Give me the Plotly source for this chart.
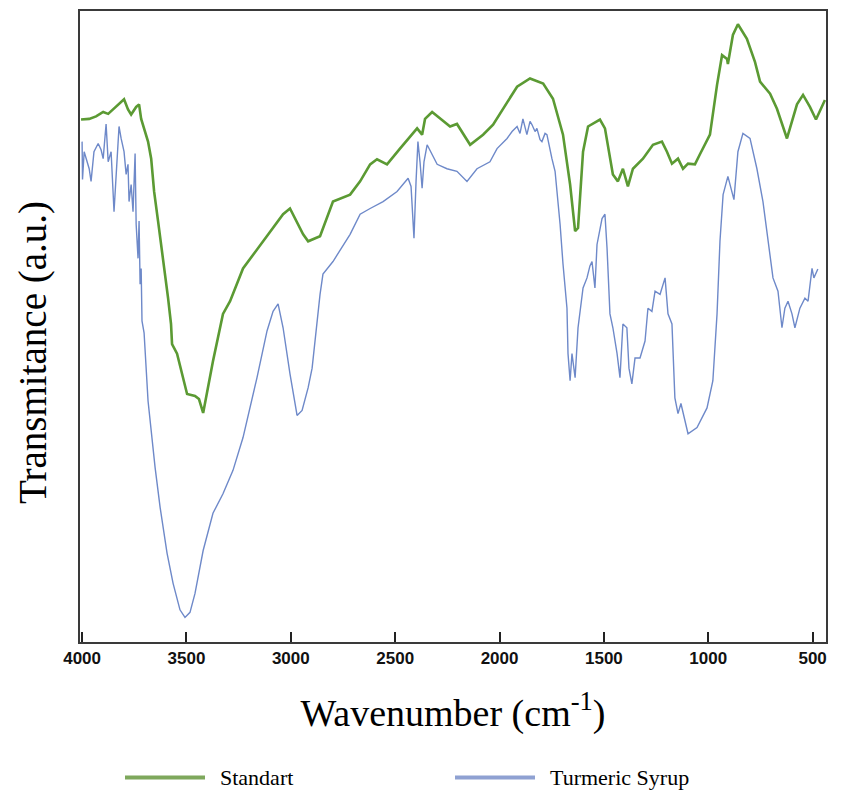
import plotly.graph_objects as go

# ---- Standart (green) : wavenumber (cm-1) and transmittance (a.u.) ----
std_wn = [4005, 3966, 3933, 3899, 3875, 3852, 3823, 3799, 3780, 3765, 3741, 3727, 3717, 3703,
          3684, 3669, 3655, 3636, 3612, 3588, 3574, 3569, 3545, 3497, 3459, 3440, 3420, 3373,
          3325, 3291, 3229, 3133, 3037, 3004, 2941, 2917, 2860, 2798, 2716, 2668, 2620, 2587,
          2539, 2477, 2395, 2371, 2357, 2323, 2237, 2204, 2141, 2079, 2031, 1916, 1854, 1791,
          1744, 1696, 1662, 1638, 1624, 1600, 1576, 1519, 1495, 1457, 1433, 1409, 1385, 1361,
          1313, 1265, 1222, 1198, 1174, 1145, 1121, 1097, 1064, 1040, 992, 958, 934, 910, 906,
          882, 858, 815, 776, 752, 704, 671, 623, 575, 546, 513, 484, 441]
std_t = [82.8, 82.9, 83.3, 84.0, 83.7, 84.4, 85.2, 86.0, 84.4, 83.6, 84.8, 85.2, 82.9, 81.4,
         79.3, 76.6, 71.4, 66.7, 60.8, 54.5, 50.4, 47.2, 45.7, 39.3, 39.0, 38.5, 36.3, 44.5,
         52.0, 54.0, 59.2, 63.5, 67.8, 68.7, 64.6, 63.5, 64.3, 69.8, 70.9, 73.0, 75.7, 76.5,
         75.7, 78.2, 81.4, 80.4, 82.9, 84.0, 81.7, 82.1, 78.8, 80.4, 82.0, 88.0, 89.3, 88.5,
         86.1, 80.4, 72.5, 65.1, 65.6, 77.7, 81.7, 82.8, 81.4, 74.1, 73.0, 75.0, 72.2, 75.0,
         76.6, 78.8, 79.3, 77.7, 75.8, 76.6, 75.0, 75.8, 75.7, 77.3, 80.4, 88.3, 93.0, 92.4, 91.6,
         96.2, 97.9, 95.6, 91.9, 88.8, 86.9, 84.5, 79.8, 85.2, 86.7, 84.8, 82.8, 85.9]

# ---- Turmeric Syrup (blue) ----
syr_wn = [4000, 3998, 3990, 3981, 3966, 3957, 3943, 3923, 3909, 3899, 3885, 3875, 3861, 3847,
          3837, 3823, 3813, 3799, 3789, 3780, 3775, 3765, 3756, 3746, 3741, 3732, 3727, 3722,
          3717, 3713, 3703, 3684, 3650, 3626, 3593, 3564, 3531, 3507, 3483, 3459, 3420, 3373,
          3325, 3277, 3229, 3162, 3114, 3085, 3061, 3037, 3004, 2970, 2946, 2917, 2898, 2874,
          2860, 2846, 2798, 2716, 2668, 2620, 2558, 2491, 2438, 2424, 2419, 2410, 2400, 2391,
          2381, 2371, 2362, 2347, 2299, 2252, 2204, 2156, 2108, 2046, 2012, 1964, 1940, 1916,
          1902, 1888, 1869, 1854, 1845, 1830, 1821, 1806, 1797, 1782, 1773, 1758, 1749, 1734,
          1725, 1710, 1696, 1677, 1672, 1662, 1653, 1638, 1624, 1600, 1581, 1567, 1557, 1543,
          1533, 1509, 1495, 1485, 1471, 1457, 1437, 1423, 1409, 1390, 1380, 1366, 1351, 1327,
          1303, 1289, 1270, 1255, 1231, 1207, 1193, 1174, 1160, 1145, 1131, 1112, 1097, 1054,
          1006, 978, 958, 944, 929, 906, 886, 877, 858, 834, 800, 767, 738, 714, 690, 666, 647,
          633, 618, 599, 585, 561, 537, 522, 503, 494, 475]
syr_t = [79.3, 73.3, 77.7, 76.6, 75.0, 73.0, 77.7, 79.0, 78.0, 76.6, 82.1, 76.1, 77.7, 68.2,
         74.6, 81.7, 79.8, 77.7, 74.1, 75.7, 69.8, 72.5, 68.2, 77.4, 66.2, 60.8, 66.7, 56.7,
         59.2, 50.9, 49.0, 38.2, 27.6, 21.3, 14.1, 9.3, 5.1, 3.9, 4.7, 7.7, 14.5, 20.4,
         23.5, 27.2, 32.4, 41.9, 49.3, 52.4, 53.6, 49.8, 42.5, 35.9, 36.7, 40.3, 43.4, 50.9,
         55.1, 58.3, 60.3, 64.6, 67.8, 68.7, 69.8, 71.4, 73.5, 72.2, 69.8, 64.0, 73.0, 79.3,
         76.1, 71.9, 76.1, 78.8, 75.7, 75.0, 74.6, 73.0, 75.0, 76.1, 78.2, 79.8, 80.9, 81.7,
         80.6, 82.9, 80.4, 82.5, 82.0, 80.9, 81.4, 79.6, 79.3, 80.6, 80.4, 77.7, 76.6, 74.6,
         71.4, 66.2, 59.9, 52.9, 45.7, 41.4, 45.7, 41.9, 49.8, 56.1, 57.7, 59.6, 60.3, 56.1,
         63.0, 67.1, 67.8, 62.4, 52.0, 49.8, 45.7, 41.9, 50.4, 49.8, 43.4, 40.9, 45.0, 45.0,
         47.7, 52.9, 52.4, 55.6, 55.1, 57.7, 52.0, 50.4, 38.7, 36.2, 37.8, 35.1, 33.0, 34.0,
         37.1, 41.4, 52.0, 63.5, 70.9, 73.8, 71.4, 70.1, 77.7, 80.6, 79.8, 75.0, 69.8, 63.5,
         57.7, 55.6, 49.8, 52.9, 54.0, 52.0, 49.8, 52.9, 54.5, 54.0, 59.2, 57.7, 59.1]

tick_vals = [4000, 3500, 3000, 2500, 2000, 1500, 1000, 500]
tick_text = ["4000", "3500", "3000", "2500", "2000", "1500", "1000", "500"]
series_names = ["Standart", "Turmeric Syrup"]

GREEN = "#5b9a33"
BLUE = "#6e89c9"
LEG_GREEN = "#7ea85c"
LEG_BLUE = "#8fa1d2"

fig = go.Figure()
fig.add_trace(go.Scatter(x=std_wn, y=std_t, mode="lines", name=series_names[0],
                         line=dict(color=GREEN, width=2.6), showlegend=False))
fig.add_trace(go.Scatter(x=syr_wn, y=syr_t, mode="lines", name=series_names[1],
                         line=dict(color=BLUE, width=1.4), showlegend=False))

serif = "Liberation Serif, Times New Roman, serif"

fig.update_layout(
    width=850, height=796,
    margin=dict(l=80, r=24, t=9, b=154),
    paper_bgcolor="white", plot_bgcolor="white",
    showlegend=False,
    xaxis=dict(range=[4010, 436], tickvals=tick_vals, ticktext=tick_text,
               ticks="inside", ticklen=10, tickwidth=1.5, tickcolor="#222",
               showline=True, mirror=True, linecolor="#3a3a3a", linewidth=2,
               showgrid=False, zeroline=False,
               tickfont=dict(family="Liberation Sans, Arial", size=17, color="#111", weight="bold"),
               title=dict(text="Wavenumber (cm<sup>-1</sup>)",
                          font=dict(family=serif, size=38, color="black"), standoff=32)),
    yaxis=dict(range=[0, 100], showticklabels=False, ticks="",
               showline=True, mirror=True, linecolor="#3a3a3a", linewidth=2,
               showgrid=False, zeroline=False),
)

# y axis title
fig.add_annotation(text="Transmitance (a.u.)", xref="paper", yref="paper",
                   x=(33 - 80) / 746, y=(642 - 352) / 633, textangle=-90,
                   xanchor="center", yanchor="middle", showarrow=False,
                   font=dict(family=serif, size=39, color="black"))

# legend drawn below the chart
legend_items = [(series_names[0], LEG_GREEN, 125), (series_names[1], LEG_BLUE, 455)]
for name, col, x0 in legend_items:
    fig.add_shape(type="line", xref="paper", yref="paper",
                  x0=(x0 - 80) / 746, x1=(x0 + 80 - 80) / 746,
                  y0=-(778 - 642) / 633, y1=-(778 - 642) / 633,
                  line=dict(color=col, width=4))
    fig.add_annotation(text=name, xref="paper", yref="paper",
                       x=(x0 + 93 - 80) / 746, y=-(778 - 642) / 633,
                       xanchor="left", yanchor="middle", showarrow=False,
                       font=dict(family=serif, size=22, color="black"))

fig.write_html("out.html")
